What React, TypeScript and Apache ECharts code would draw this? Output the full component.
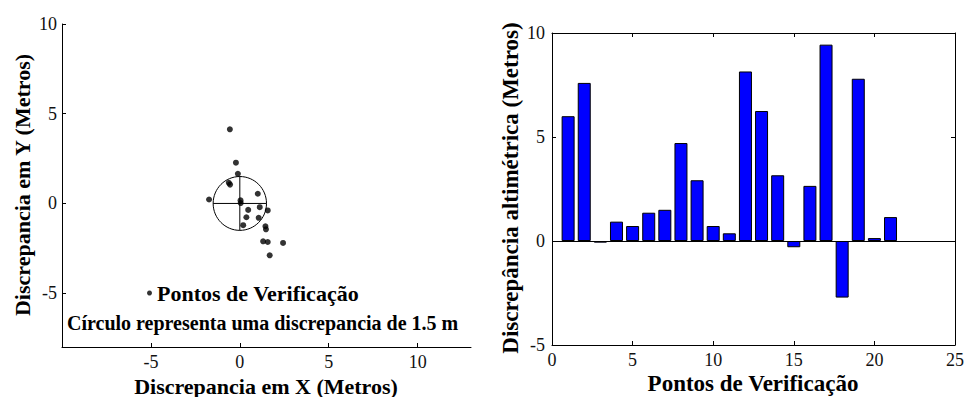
import React, { useEffect, useRef } from "react";
import * as echarts from "echarts";

// Left chart: horizontal discrepancies of the verification points (X, Y in metres)
const pontosXY: number[][] = [
  [-0.56, 4.13], [-0.22, 2.27], [-0.11, 1.65], [-0.62, 1.15], [-0.55, 1.05],
  [-1.73, 0.22], [0.04, 0.17], [0.05, 0.02], [1.01, 0.54], [0.47, -0.36],
  [1.12, -0.21], [1.57, -0.39], [0.37, -0.77], [1.06, -0.8], [0.19, -1.21],
  [1.44, -1.27], [1.47, -1.44], [1.31, -2.11], [1.57, -2.15], [2.43, -2.2],
  [1.68, -2.89],
];
// circle: centre x, centre y, radius (1.5 m)
const circulo: number[][] = [[0, 0, 1.5]];
const leftXTicks = [-5, 0, 5, 10];
const leftYTicks = [-5, 0, 5, 10];

// Right chart: vertical discrepancies per verification point
const pontos = [1, 2, 3, 4, 5, 6, 7, 8, 9, 10, 11, 12, 13, 14, 15, 16, 17, 18, 19, 20, 21];
const discrepAlt = [
  6.0, 7.6, -0.08, 0.93, 0.72, 1.36, 1.5, 4.71, 2.92, 0.72, 0.37,
  8.15, 6.25, 3.16, -0.3, 2.65, 9.44, -2.72, 7.8, 0.14, 1.15,
];

const FONT = "'Liberation Serif', 'Times New Roman', serif";

export default function App() {
  const ref = useRef<HTMLDivElement>(null);
  useEffect(() => {
    if (!ref.current) return;
    const chart = echarts.init(ref.current, undefined, { renderer: "svg" });
    const axisLine = { show: true, onZero: false, lineStyle: { color: "#000", width: 1 } };
    const tick = { show: true, inside: true, length: 4, lineStyle: { color: "#000" } };
    const label = { color: "#111", fontSize: 18, fontFamily: FONT };
    chart.setOption({
      animation: false,
      backgroundColor: "#fff",
      textStyle: { fontFamily: FONT },
      grid: [
        { left: 62, top: 24, width: 409, height: 323 },
        { left: 552, top: 33, width: 407, height: 312 },
      ],
      legend: {
        data: ["Pontos de Verificação"],
        left: 147,
        top: 282,
        padding: 0,
        itemWidth: 5,
        itemHeight: 5,
        icon: "circle",
        textStyle: { fontSize: 22, fontWeight: "bold", color: "#000", fontFamily: FONT, lineHeight: 22 },
      },
      xAxis: [
        {
          gridIndex: 0, type: "value", min: -10, max: 13,
          axisLine, axisTick: { ...tick, customValues: leftXTicks },
          axisLabel: { ...label, margin: 6, customValues: leftXTicks },
          splitLine: { show: false },
        },
        {
          gridIndex: 1, type: "value", min: 0, max: 25, interval: 5, position: "bottom",
          axisLine, axisTick: tick, axisLabel: { ...label, margin: 6 },
          splitLine: { show: false },
        },
        {
          gridIndex: 1, type: "value", min: 0, max: 25, interval: 5, position: "top",
          axisLine, axisTick: tick, axisLabel: { show: false },
          splitLine: { show: false },
        },
      ],
      yAxis: [
        {
          gridIndex: 0, type: "value", min: -8, max: 10,
          axisLine, axisTick: { ...tick, customValues: leftYTicks },
          axisLabel: { ...label, margin: 5, customValues: leftYTicks },
          splitLine: { show: false },
        },
        {
          gridIndex: 1, type: "value", min: -5, max: 10, interval: 5, position: "left",
          axisLine, axisTick: tick, axisLabel: { ...label, margin: 7 },
          splitLine: { show: false },
        },
        {
          gridIndex: 1, type: "value", min: -5, max: 10, interval: 5, position: "right",
          axisLine, axisTick: tick, axisLabel: { show: false },
          splitLine: { show: false },
        },
      ],
      series: [
        {
          name: "Pontos de Verificação",
          type: "scatter",
          xAxisIndex: 0,
          yAxisIndex: 0,
          symbol: "circle",
          symbolSize: 6,
          itemStyle: { color: "#000" },
          data: pontosXY,
        },
        {
          name: "circulo",
          type: "custom",
          xAxisIndex: 0,
          yAxisIndex: 0,
          data: circulo,
          renderItem: (_params: any, api: any) => {
            const c = api.coord([api.value(0), api.value(1)]);
            const r = api.value(2);
            const s = api.size([r, r]);
            const rx = s[0];
            const ry = s[1];
            const stroke = { stroke: "#000", lineWidth: 1, fill: "none" };
            return {
              type: "group",
              children: [
                { type: "ellipse", shape: { cx: c[0], cy: c[1], rx, ry }, style: stroke },
                { type: "line", shape: { x1: c[0] - rx, y1: c[1], x2: c[0] + rx, y2: c[1] }, style: stroke },
                { type: "line", shape: { x1: c[0], y1: c[1] - ry, x2: c[0], y2: c[1] + ry }, style: stroke },
              ],
            };
          },
        },
        {
          name: "Discrepância",
          type: "bar",
          xAxisIndex: 1,
          yAxisIndex: 1,
          barWidth: 13,
          itemStyle: { color: "#0000ff", borderColor: "#000", borderWidth: 1 },
          data: pontos.map((p, i) => [p, discrepAlt[i]]),
          markLine: {
            silent: true,
            symbol: "none",
            label: { show: false },
            lineStyle: { color: "#000", type: "solid", width: 1 },
            data: [{ yAxis: 0 }],
          },
        },
      ],
      graphic: [
        {
          type: "text", x: 22, y: 185, rotation: Math.PI / 2,
          style: { text: "Discrepancia em Y (Metros)", font: `bold 22px ${FONT}`, fill: "#000", align: "center", verticalAlign: "middle" },
        },
        {
          type: "text", x: 266, y: 386,
          style: { text: "Discrepancia em X (Metros)", font: `bold 22px ${FONT}`, fill: "#000", align: "center", verticalAlign: "middle" },
        },
        {
          type: "text", x: 67, y: 323,
          style: { text: "Círculo representa uma discrepancia de 1.5 m", font: `bold 20px ${FONT}`, fill: "#000", align: "left", verticalAlign: "middle" },
        },
        {
          type: "text", x: 510, y: 188, rotation: Math.PI / 2,
          style: { text: "Discrepância altimétrica (Metros)", font: `bold 23px ${FONT}`, fill: "#000", align: "center", verticalAlign: "middle" },
        },
        {
          type: "text", x: 753, y: 383,
          style: { text: "Pontos de Verificação", font: `bold 23px ${FONT}`, fill: "#000", align: "center", verticalAlign: "middle" },
        },
      ],
    });
    return () => chart.dispose();
  }, []);
  return (
    <div
      ref={ref}
      style={{ position: "fixed", left: 0, top: 0, width: 967, height: 397, background: "#fff" }}
    />
  );
}
